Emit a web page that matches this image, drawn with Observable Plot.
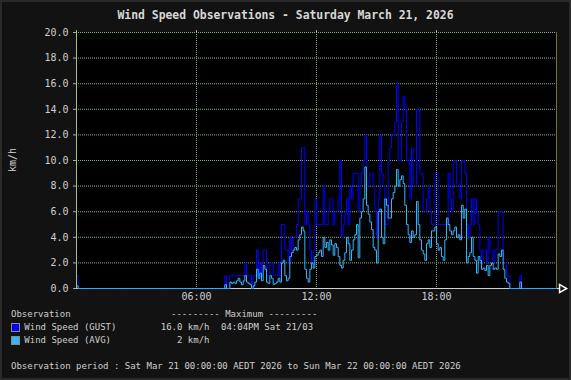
<!DOCTYPE html>
<html>
<head>
<meta charset="utf-8">
<script src="https://cdn.jsdelivr.net/npm/d3@7"></script>
<script src="https://cdn.jsdelivr.net/npm/@observablehq/plot@0.6"></script>
<style>
  html, body { margin: 0; padding: 0; background: #121212; }
  #wrap { position: relative; width: 571px; height: 380px; background: #121212; overflow: hidden;
          box-shadow: inset 0 0 0 2px #2a2a2a; font-family: "DejaVu Sans Mono", monospace; color: #cfcfcf; }
  #wrap svg { position: absolute; left: 0; top: 0; }
  .t { position: absolute; white-space: pre; line-height: 1; }
  .sw { position: absolute; width: 7px; height: 7px; border: 1px solid #8a8a8a; }
</style>
</head>
<body>
<div id="wrap"></div>
<script>
// ---- data (5-minute samples, 00:00 .. 23:55), km/h ----
const title = "Wind Speed Observations - Saturday March 21, 2026";
const yLabel = "km/h";
const stepMinutes = 5;
const gust = [
  1,0,0,0,0,0,0,0,0,0,0,0,          // 00
  0,0,0,0,0,0,0,0,0,0,0,0,          // 01
  0,0,0,0,0,0,0,0,0,0,0,0,          // 02
  0,0,0,0,0,0,0,0,0,0,0,0,          // 03
  0,0,0,0,0,0,0,0,0,0,0,0,          // 04
  0,0,0,0,0,0,0,0,0,0,0,0,          // 05
  0,0,0,0,0,0,0,0,0,0,0,0,          // 06
  0,0,0,0,0,1,0,0,1,1,1,1,          // 07
  1,1,1,1,1,2,1,1,1,0,1,1,          // 08
  3,1,2,1,3,3,1,1,2,2,1,1,          // 09
  1,2,1,5,5,3,3,2,4,3,4,4,          // 10
  5,7,7,11,11,5,6,5,3,2,3,7,        // 11
  5,5,5,5,8,5,5,6,7,7,5,6,          // 12
  6,7,10,4,5,6,7,5,8,7,9,9,         // 13
  9,6,8,9,10,12,8,8,9,9,8,6,        // 14
  4,7,12,9,8,5,5,10,11,12,12,13,    // 15
  16,10,10,13,15,14,10,10,7,11,8,8, // 16
  14,14,9,9,6,6,7,8,6,5,5,9,        // 17
  9,5,5,5,5,5,5,9,7,6,10,10,        // 18
  8,8,7,10,10,9,5,4,5,7,5,7,        // 19
  6,5,3,2,3,3,2,4,3,3,2,3,          // 20
  3,6,6,6,2,2,1,1,0,0,0,0,          // 21
  0,0,1,0,0,0,0,0,0,0,0,0,          // 22
  0,0,0,0,0,0,0,0,0,0,0,0           // 23
];
const avg = [
  0.2,0,0,0,0,0,0,0,0,0,0,0,
  0,0,0,0,0,0,0,0,0,0,0,0,
  0,0,0,0,0,0,0,0,0,0,0,0,
  0,0,0,0,0,0,0,0,0,0,0,0,
  0,0,0,0,0,0,0,0,0,0,0,0,
  0,0,0,0,0,0,0,0,0,0,0,0,
  0,0,0,0,0,0,0,0,0,0,0,0,
  0,0,0,0,0,0.3,0,0,0.5,0.4,0.5,0.4,
  0.6,0.8,0.5,0.3,0.6,1.0,0.5,0.4,0.3,0,0.2,0.5,
  1.5,0.8,1.2,0.6,1.8,1.5,0.5,0.4,1.0,0.8,0.3,0.4,
  0.5,0.8,0.5,2.0,2.2,1.0,0.6,0.8,2.5,2.8,3.0,3.2,
  3.0,3.8,4.2,4.8,4.5,1.5,0.8,0.5,1.5,2.0,1.6,2.5,
  2.6,2.8,3.0,2.5,4.0,3.2,3.6,3.0,3.8,3.4,2.6,3.5,
  3.2,2.5,1.8,1.6,2.2,2.8,4.0,3.5,2.2,3.0,3.8,4.2,
  5.0,2.4,5.5,6.0,7.0,9.5,6.5,5.8,5.2,4.6,3.2,3.0,
  2.0,6.0,6.2,4.0,3.5,7.0,6.5,5.5,5.5,7.0,7.5,8.0,
  9.3,8.0,8.5,8.8,8.2,6.5,5.0,4.2,3.6,4.5,4.0,4.2,
  6.8,5.0,3.8,3.0,2.7,2.2,3.5,3.8,3.2,4.5,4.5,4.8,
  3.5,3.0,3.2,2.5,2.2,3.8,5.5,5.0,4.5,4.2,4.5,4.8,
  4.0,4.2,3.8,6.5,5.5,6.2,2.0,2.5,2.8,4.0,2.5,2.2,
  1.2,2.5,2.2,1.5,1.6,1.4,1.8,1.0,1.8,2.0,1.5,1.6,
  1.5,2.7,2.5,3.0,1.5,0.8,0.5,0.4,0,0,0,0,
  0,0,0.5,0,0,0,0,0,0,0,0,0,
  0,0,0,0,0,0,0,0,0,0,0,0
];
const yTicks = [0, 2, 4, 6, 8, 10, 12, 14, 16, 18, 20];
const xTicks = [6, 12, 18];
const xTickLabels = ["06:00", "12:00", "18:00"];
const seriesNames = ["Wind Speed (GUST)", "Wind Speed (AVG)"];
const seriesColors = ["#0000ff", "#33b5ff"];
const maxValues = ["16.0 km/h", "2 km/h"];
const maxTimes = ["04:04PM Sat 21/03", ""];
const period = "Observation period : Sat Mar 21 00:00:00 AEDT 2026 to Sun Mar 22 00:00:00 AEDT 2026";

// ---- build table ----
const rows = gust.map((g, i) => ({t: i * stepMinutes / 60, gust: g, avg: avg[i]}));
rows.push({t: 24, gust: gust[gust.length - 1], avg: avg[avg.length - 1]});

const gridColor = "#8db486";
const chart = Plot.plot({
  width: 571, height: 380,
  marginLeft: 76, marginRight: 15, marginTop: 32, marginBottom: 92,
  style: {background: "transparent", color: "#cfcfcf", fontFamily: "DejaVu Sans Mono", fontSize: "10px"},
  x: {type: "linear", domain: [0, 24]},
  y: {type: "linear", domain: [0, 20]},
  marks: [
    Plot.frame({fill: "#000", stroke: null}),
    Plot.gridY(yTicks, {stroke: gridColor, strokeOpacity: 1, strokeDasharray: "1,1"}),
    Plot.gridX(xTicks, {stroke: gridColor, strokeOpacity: 1, strokeDasharray: "1,1"}),
    Plot.ruleX([24], {y1: 0, y2: 20, stroke: "#74742e", strokeOpacity: 1}),
    Plot.ruleY([0], {x1: 0, x2: 24.2, stroke: "#d0d0d0", strokeOpacity: 1}),
    Plot.line(rows, {x: "t", y: "gust", curve: "step-after", stroke: seriesColors[0], strokeWidth: 1}),
    Plot.line(rows, {x: "t", y: "avg", curve: "step-after", stroke: seriesColors[1], strokeWidth: 1}),
    Plot.ruleX([0], {y1: 0, y2: 20.15, stroke: "#a8c070", strokeOpacity: 1}),
    Plot.ruleX(xTicks, {y1: 20, y2: 20.15, stroke: "#b0b0b0", strokeOpacity: 1}),
    Plot.axisY(yTicks, {tickFormat: d => d.toFixed(1), tickSize: 3, tickPadding: 5, stroke: "#a8a8a8", label: null}),
    Plot.axisX(xTicks, {tickFormat: (d, i) => xTickLabels[i], tickSize: 0, tickPadding: 4, label: null}),
    Plot.dot([24.27], {x: d => d, y: () => 0, symbol: "triangle", rotate: 90, r: 3, stroke: "#ffffff", fill: "none"})
  ]
});

const wrap = document.getElementById("wrap");
wrap.appendChild(chart);

function txt(s, x, cy, size, opts = {}) {
  const d = document.createElement("div");
  d.className = "t";
  d.textContent = s;
  d.style.fontSize = size + "px";
  d.style.top = (cy - size / 2) + "px";
  if (opts.right != null) d.style.right = (571 - opts.right) + "px"; else d.style.left = x + "px";
  if (opts.color) d.style.color = opts.color;
  if (opts.weight) d.style.fontWeight = opts.weight;
  wrap.appendChild(d);
  return d;
}
// title
const tt = txt(title, 0, 16, 11.4, {color: "#d8d8d8", weight: "bold"});
tt.style.left = "0px"; tt.style.width = "571px"; tt.style.textAlign = "center";
// y label
const yl = txt(yLabel, 0, 160, 10);
yl.style.left = "12.5px"; yl.style.top = "160px";
yl.style.transform = "translate(-50%,-50%) rotate(-90deg)";
// legend
txt("Observation", 11, 314.7, 9);
txt("--------- Maximum ---------", 171, 314.7, 9);
const rowY = [327.3, 340.3];
seriesNames.forEach((n, i) => {
  const s = document.createElement("div");
  s.className = "sw";
  s.style.left = "11px"; s.style.top = (rowY[i] - 4) + "px";
  s.style.background = seriesColors[i];
  wrap.appendChild(s);
  txt(n, 24.3, rowY[i], 9);
  txt(maxValues[i], 0, rowY[i], 9, {right: 209.5});
  if (maxTimes[i]) txt(maxTimes[i], 221, rowY[i], 9);
});
txt(period, 11, 366.3, 9);
</script>
</body>
</html>
